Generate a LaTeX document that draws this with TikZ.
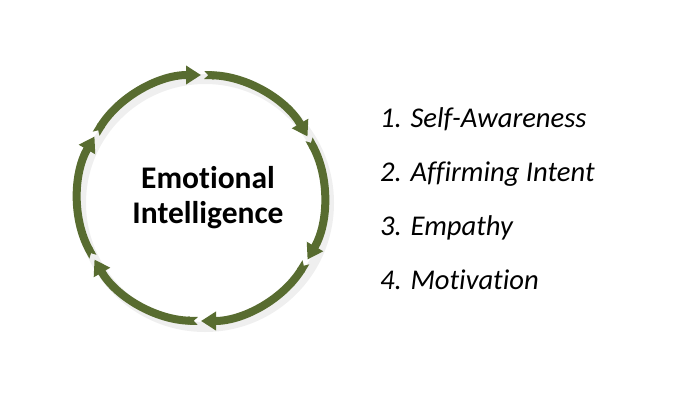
\documentclass[tikz,border=0pt]{standalone}
\usepackage{fontspec}
\setmainfont{Carlito}[Ligatures=NoCommon]
\usetikzlibrary{arrows.meta,calc}
\definecolor{ringgreen}{RGB}{88,108,48}
\tikzset{
  ringarc/.style={ringgreen, line width=8pt,
    {Triangle Cap[reversed]}-{Triangle[width=18pt,length=15pt]}},
  ringshadow/.style={black!10, line width=10pt},
  itemtext/.style={anchor=base west, font=\fontsize{28.6}{30}\selectfont\itshape, inner sep=0pt},
  centertext/.style={align=center, font=\fontsize{31.5}{35}\selectfont\bfseries}
}
\begin{document}
\begin{tikzpicture}[x=1pt,y=1pt]
  \useasboundingbox (0,0) rectangle (698,400);
  \coordinate (ctr) at (201,202);
  % soft shadow of the ring
  \draw[ringshadow, opacity=.6] ($(ctr)+(4,-5)$) circle (124);
  % ring of six arrows, clockwise
  \foreach \a in {90,30,-30,-90,-150,150} {
    \draw[ringarc] ($(ctr)+(\a+58.5:123)$) arc[start angle=\a+58.5, end angle=\a, radius=123];
  }
  \node[centertext] (ei) at (208,202) {Emotional\\Intelligence};
  \node[itemtext] (aware) at (380,273) {1. Self-Awareness};
  \node[itemtext] (intent) at (380,219) {2. Affirming Intent};
  \node[itemtext] (empathy) at (380,165) {3. Empathy};
  \node[itemtext] (motiv) at (380,111) {4. Motivation};
\end{tikzpicture}
\end{document}
